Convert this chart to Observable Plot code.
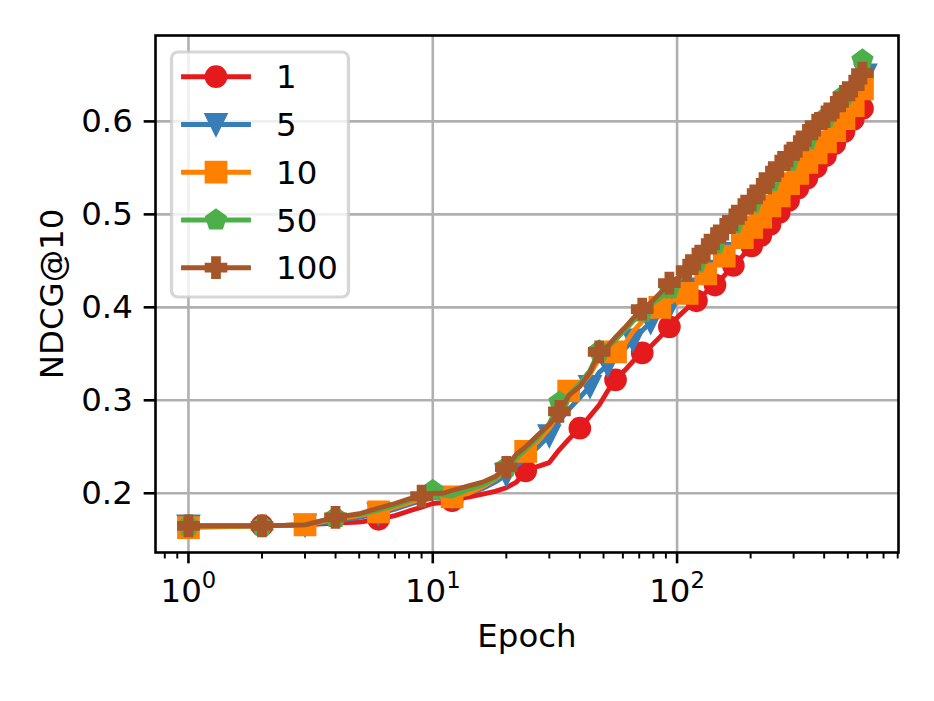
<!DOCTYPE html>
<html>
<head>
<meta charset="utf-8">
<script src="https://cdn.jsdelivr.net/npm/d3@7"></script>
<script src="https://cdn.jsdelivr.net/npm/@observablehq/plot@0.6"></script>
<style>
  html, body { margin: 0; padding: 0; background: #ffffff; }
  #chart svg { display: block; }
</style>
</head>
<body>
<div id="chart"></div>
<script>
// ---------------- data ----------------
const seriesNames = ["1", "5", "10", "50", "100"];
const colors = ["#e41a1c", "#377eb8", "#ff7f00", "#4daf4a", "#a65628"];

const epochs = [1,2,3,4,5,6,7,8,9,10,11,12,14,16,18,20,22,24,27,30,33,36,40,44,48,52,56,61,66,72,78,85,93,101,110,120,131,143,156,170,185,202,220,240,262,286,312,340,371,405,442,482,526,574,590];

const ndcg_1 = [0.165,0.165,0.166,0.168,0.169,0.172,0.176,0.181,0.185,0.189,0.190,0.192,
  0.196,0.199,0.202,0.206,0.212,0.224,
  0.229,0.233,0.247,0.258,
  0.270,0.283,0.295,0.310,0.322,
  0.332,0.342,0.351,0.358,0.368,
  0.379,0.390,0.399,0.407,
  0.416,0.424,0.434,0.445,0.455,
  0.466,0.477,0.489,0.502,0.515,
  0.528,0.539,0.551,0.563,0.576,
  0.589,0.602,0.614,0.618];

const ndcg_5 = [0.165,0.165,0.166,0.170,0.174,0.178,0.183,0.188,0.192,0.195,0.195,0.196,
  0.200,0.205,0.212,0.220,0.230,0.237,
  0.250,0.262,0.278,0.290,
  0.303,0.315,0.330,0.338,0.345,
  0.355,0.365,0.375,0.384,0.392,
  0.400,0.410,0.420,0.430,
  0.439,0.448,0.458,0.468,0.478,
  0.489,0.500,0.512,0.523,0.535,
  0.547,0.558,0.570,0.582,0.595,
  0.610,0.625,0.643,0.650];

const ndcg_10 = [0.163,0.165,0.166,0.172,0.176,0.180,0.185,0.190,0.194,0.198,0.196,0.196,
  0.200,0.207,0.215,0.225,0.235,0.245,
  0.256,0.270,0.287,0.310,
  0.315,0.328,0.345,0.352,0.352,
  0.360,0.374,0.385,0.393,0.400,
  0.405,0.410,0.415,0.425,
  0.436,0.446,0.455,0.465,0.475,
  0.486,0.497,0.509,0.520,0.533,
  0.544,0.556,0.566,0.578,0.590,
  0.603,0.617,0.635,0.642];

const ndcg_50 = [0.165,0.165,0.166,0.174,0.177,0.182,0.187,0.192,0.196,0.203,0.198,0.197,
  0.204,0.209,0.216,0.228,0.238,0.247,
  0.260,0.275,0.298,0.305,
  0.318,0.332,0.353,0.357,0.365,
  0.375,0.385,0.395,0.403,0.410,
  0.420,0.430,0.438,0.448,
  0.458,0.468,0.478,0.490,0.500,
  0.512,0.522,0.535,0.545,0.557,
  0.568,0.580,0.592,0.604,0.615,
  0.628,0.643,0.666,0.668];

const ndcg_100 = [0.165,0.165,0.166,0.174,0.178,0.184,0.189,0.194,0.197,0.200,0.200,0.203,
  0.208,0.212,0.218,0.228,0.242,0.250,
  0.263,0.274,0.288,0.305,
  0.315,0.330,0.352,0.358,0.368,
  0.378,0.388,0.398,0.405,0.415,
  0.426,0.432,0.440,0.452,
  0.462,0.474,0.484,0.494,0.505,
  0.516,0.527,0.540,0.552,0.563,
  0.573,0.585,0.596,0.605,0.615,
  0.627,0.638,0.652,0.656];

// epochs at which a marker is drawn on each curve
const markers_1 = [1,2,6,12,24,40,56,72,93,120,143,170,202,220,240,262,286,312,340,371,405,442,482,526,574];
const markers_5 = [1,3,6,12,20,30,44,52,66,78,93,110,131,156,185,220,262,312,371,442,526,590];
const markers_10 = [1,3,6,12,24,36,56,85,110,131,156,185,202,220,240,262,286,312,340,371,405,442,482,526,574];
const markers_50 = [1,2,4,10,20,33,48,72,93,120,143,170,202,240,286,340,405,482,574];
const markers_100 = [1,2,4,9,20,33,48,72,93,110,120,131,143,156,170,185,202,220,240,262,286,312,340,371,405,442,482,526,574];

const yTicks = [0.2, 0.3, 0.4, 0.5, 0.6];
const xTicks = [1, 10, 100];
const xMinorTicks = [0.8,0.9,2,3,4,5,6,7,8,9,20,30,40,50,60,70,80,90,200,300,400,500,600,700,800];
const xLabel = "Epoch";
const yLabel = "NDCG@10";

// ---------------- styling ----------------
const PT = 233.5 / 72;          // pixels per point
const FS = 10 * PT;             // font size
const FONT = "DejaVu Sans, Liberation Sans, sans-serif";

// matplotlib-like marker shapes, half-extent s = sqrt(size/PI)
const half = (size) => Math.sqrt(size / Math.PI);
const symCircle = { draw(ctx, size) { const s = half(size); ctx.moveTo(s, 0); ctx.arc(0, 0, s, 0, 2 * Math.PI); ctx.closePath(); } };
const symTriDown = { draw(ctx, size) { const s = half(size); ctx.moveTo(0, s); ctx.lineTo(-s, -s); ctx.lineTo(s, -s); ctx.closePath(); } };
const symSquare = { draw(ctx, size) { const s = half(size); ctx.moveTo(-s, -s); ctx.lineTo(s, -s); ctx.lineTo(s, s); ctx.lineTo(-s, s); ctx.closePath(); } };
const symPentagon = { draw(ctx, size) { const s = half(size);
  for (let k = 0; k < 5; k++) { const a = -Math.PI / 2 + k * 2 * Math.PI / 5; const px = s * Math.cos(a), py = s * Math.sin(a); if (k === 0) ctx.moveTo(px, py); else ctx.lineTo(px, py); }
  ctx.closePath(); } };
const symPlusFilled = { draw(ctx, size) { const s = half(size), a = s / 3;
  const pts = [[-a,-s],[a,-s],[a,-a],[s,-a],[s,a],[a,a],[a,s],[-a,s],[-a,a],[-s,a],[-s,-a],[-a,-a]];
  pts.forEach(([px, py], k) => k ? ctx.lineTo(px, py) : ctx.moveTo(px, py)); ctx.closePath(); } };
const shapes = [symCircle, symTriDown, symSquare, symPentagon, symPlusFilled];

const values = [ndcg_1, ndcg_5, ndcg_10, ndcg_50, ndcg_100];
const markerSets = [markers_1, markers_5, markers_10, markers_50, markers_100];
const MR = 3 * PT;  // marker half-size (markersize 6pt)

// ---------------- marks ----------------
const marks = [
  Plot.gridX({ticks: xTicks, stroke: "#b0b0b0", strokeOpacity: 1, strokeWidth: 0.8 * PT}),
  Plot.gridY({ticks: yTicks, stroke: "#b0b0b0", strokeOpacity: 1, strokeWidth: 0.8 * PT})
];

seriesNames.forEach((name, i) => {
  const data = epochs.map((e, j) => ({epoch: e, value: values[i][j], series: name}));
  const mdata = data.filter(d => markerSets[i].includes(d.epoch));
  marks.push(Plot.line(data, {x: "epoch", y: "value", stroke: colors[i], strokeWidth: 1.5 * PT, strokeLinejoin: "round"}));
  marks.push(Plot.dot(mdata, {x: "epoch", y: "value", symbol: shapes[i], r: MR, fill: colors[i], stroke: colors[i], strokeWidth: PT, strokeLinejoin: "miter"}));
});

marks.push(Plot.frame({stroke: "black", strokeWidth: 0.8 * PT}));
marks.push(Plot.axisX({ticks: xMinorTicks, tickSize: 2 * PT, strokeWidth: 0.6 * PT, stroke: "black", tickFormat: () => "", label: null}));
marks.push(Plot.axisX({ticks: xTicks, tickSize: 3.5 * PT, tickPadding: 15, strokeWidth: 0.8 * PT, stroke: "black", fill: "black",
  tickFormat: d => String(Math.round(Math.log10(d))), label: null, fontSize: FS}));
marks.push(Plot.axisY({ticks: yTicks, tickSize: 3.5 * PT, tickPadding: 3.5 * PT, strokeWidth: 0.8 * PT, stroke: "black", fill: "black",
  tickFormat: d3.format(".1f"), label: null, fontSize: FS}));
marks.push(Plot.text([xLabel], {frameAnchor: "bottom", dy: 71, lineAnchor: "top", textAnchor: "middle", text: d => d, fontSize: FS, fill: "black"}));
marks.push(Plot.text([yLabel], {frameAnchor: "left", dx: -103, rotate: -90, lineAnchor: "middle", textAnchor: "middle", text: d => d, fontSize: FS, fill: "black"}));

const svg = Plot.plot({
  width: 934,
  height: 701,
  marginLeft: 155,
  marginRight: 36,
  marginTop: 35,
  marginBottom: 149,
  style: {fontFamily: FONT, fontSize: FS + "px", background: "#ffffff", color: "black"},
  x: {type: "log", domain: [0.733, 806]},
  y: {domain: [0.1363, 0.6924]},
  marks
});

// superscript exponents on the log-axis tick labels (10^n)
d3.select(svg).selectAll('g[aria-label="x-axis tick label"] text').each(function () {
  const t = d3.select(this);
  const exp = t.text();
  if (!exp) return;
  t.text(null);
  t.append("tspan").text("10");
  t.append("tspan").attr("dy", -0.42 * FS).attr("font-size", 0.7 * FS).text(exp);
});

// legend (upper left, matplotlib style)
const lg = d3.select(svg).append("g").attr("font-family", FONT).attr("font-size", FS).attr("text-anchor", "start");
lg.append("rect").attr("x", 171.5).attr("y", 52).attr("width", 177).attr("height", 245).attr("rx", 6.5)
  .attr("fill", "white").attr("fill-opacity", 0.8).attr("stroke", "#cccccc").attr("stroke-opacity", 0.8).attr("stroke-width", PT);
seriesNames.forEach((name, i) => {
  const cy = 76.7 + i * 47.75;
  lg.append("line").attr("x1", 183.5).attr("x2", 248.5).attr("y1", cy).attr("y2", cy)
    .attr("stroke", colors[i]).attr("stroke-width", 1.5 * PT).attr("stroke-linecap", "square");
  lg.append("path").attr("transform", `translate(216,${cy})`)
    .attr("d", d3.symbol(shapes[i], MR * MR * Math.PI)())
    .attr("fill", colors[i]).attr("stroke", colors[i]).attr("stroke-width", PT).attr("stroke-linejoin", "miter");
  lg.append("text").attr("x", 276).attr("y", cy).attr("dy", "0.36em").attr("text-anchor", "start").attr("fill", "black").text(name);
});

document.getElementById("chart").appendChild(svg);
</script>
</body>
</html>
